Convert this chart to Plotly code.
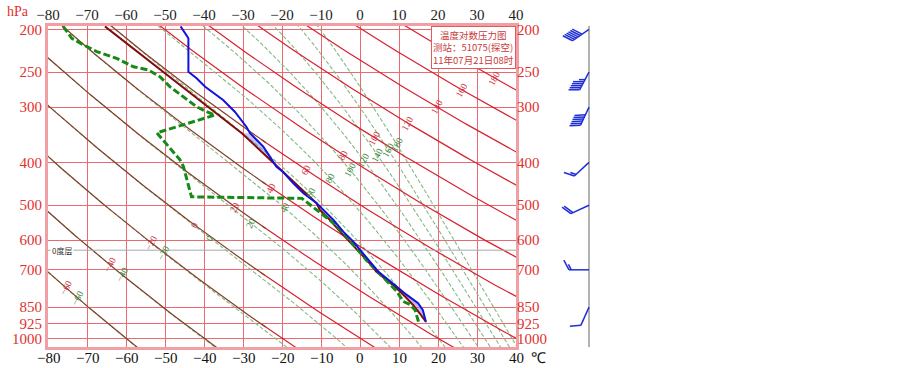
import numpy as np
import plotly.graph_objects as go

# ---------------- data ----------------
# environmental temperature profile (blue)
P_TEMP = [197, 209.6, 249.4, 258.1, 269.7, 289.1, 307.2, 332.6, 343.6, 368.5, 409.5, 420.6,
          446.1, 470, 495, 512.6, 540, 573.8, 604.5, 636.8, 671, 706.8, 731.6, 764.6,
          797.8, 833, 862.6, 917]
TEMP = [-46.0, -44.0, -44.0, -41.9, -39.7, -35.1, -32.1, -29.1, -28.2, -24.8, -21.4, -19.7,
        -17.1, -14.5, -11.1, -9.4, -6.8, -4.3, -1.7, 0.4, 2.6, 4.7, 6.8, 9.4,
        12.0, 14.9, 16.1, 16.9]
# dew point profile (green dashed)
P_DEWP = [197, 209.6, 217.0, 224.6, 232.7, 243.1, 247.2, 256.1, 269.9, 284.3, 299.4, 307.2,
          312.7, 343.0, 394.2, 408.3, 478.6, 482.5, 512.4, 548.6, 589, 626.5, 666.6, 703,
          741.7, 782.5, 825.5, 838.6, 862.6, 917]
DEWP = [-76.1, -73.9, -70.9, -67.5, -62.4, -58.1, -54.3, -51.3, -48.7, -45.3, -41.9, -39.3,
        -37.2, -52.1, -46.2, -45.3, -43.2, -14.9, -11.1, -6.8, -3.4, -0.8, 1.7, 4.3,
        6.8, 9.4, 11.1, 12.8, 14.1, 15.0]
# parcel (state) curve
P_PARCEL = [197, 260.4, 343.6, 420.6, 495, 512.6, 540, 573.8, 604.5, 636.8, 671, 706.8,
            733, 764.6, 800, 840, 880, 917]
T_PARCEL = [-65.4, -47.8, -30.3, -19.7, -11.1, -10.3, -7.7, -5.1, -2.6, -0.3, 2.1, 4.2,
            6.4, 9.0, 11.3, 13.6, 15.4, 16.9]
# shaded energy areas: (p_top, p_bottom, colour)
AREAS = [(343.6, 420.6, "rgba(130,130,235,0.45)"),
         (420.6, 495, "rgba(235,50,60,0.85)"),
         (495, 764.6, "rgba(150,170,240,0.45)"),
         (764.6, 917, "rgba(150,130,225,0.55)")]

ISOBARS = [200, 250, 300, 400, 500, 600, 700, 850, 925, 1000]
T_TICKS = list(range(-80, 41, 10))
THETA_VALUES = list(range(-60, 221, 20))          # dry adiabats, deg C
THETA_LABELS = list(range(-60, 181, 20))
THETA_LABEL_P = [770, 683, 609, 554, 505, 457, 416, 385, 352, 326, 300, 274, 258]
THETASE_VALUES = list(range(-60, 181, 20))        # pseudo-adiabats, deg C
THETASE_LABEL_P = [811, 719, 641, 593, 549, 507, 469, 434, 416, 395, 385, 375, 365]
FREEZING_P = 632

WIND_P = [200, 250, 300, 400, 500, 700, 850]
WIND_DIR = [235, 208, 205, 227, 245, 270, 204]
WIND_SPD = [24, 22, 24, 6, 8, 6, 4]

TITLE_LINES = ["温度对数压力图", "测站：51075(探空)", "11年07月21日08时"]

# ---------------- layout constants ----------------
W, H = 903, 368
ML, MR, MT, MB = 48, 0, 26, 21
MAIN_W = 468
XD = MAIN_W / (W - ML - MR)
PLOT_H = H - MT - MB
LOG_BOT, LOG_TOP = 3.0197, 2.2936
PX_PER_DEC = PLOT_H / (LOG_BOT - LOG_TOP)
BARB_X0 = 589

RED_GRID = "#ea6a72"
RED_LINE = "#d8202e"
BROWN = "#83402a"
GREEN_LINE = "#86b886"
SERIF = "Liberation Serif, Times New Roman, serif"
CJK = "Noto Sans CJK SC"

PGRID = np.geomspace(185, 1100, 140)


def dry_T(theta_c, p):
    return (theta_c + 273.15) * (np.asarray(p) / 1000.0) ** 0.2857 - 273.15


def theta_se(tc, p):
    t = tc + 273.15
    es = 6.112 * np.exp(17.67 * tc / (tc + 243.5))
    ws = 0.622 * es / (p - es)
    return t * (1000.0 / p) ** 0.2857 * np.exp(2.5e6 * ws / (1004.0 * t))


def moist_T(thse_c, p):
    p = np.asarray(p, float)
    lo = np.full_like(p, -130.0)
    hi = np.full_like(p, 60.0)
    target = thse_c + 273.15
    for _ in range(60):
        mid = 0.5 * (lo + hi)
        f = theta_se(mid, p) > target
        hi = np.where(f, mid, hi)
        lo = np.where(f, lo, mid)
    return 0.5 * (lo + hi)


def join(lines):
    X, Y = [], []
    for xs, ys in lines:
        X += list(xs) + [None]
        Y += list(ys) + [None]
    return X, Y


fig = go.Figure()

# pseudo-adiabats (green dashed)
gl = [(moist_T(v, PGRID), PGRID) for v in THETASE_VALUES]
gx, gy = join(gl)
fig.add_trace(go.Scatter(x=gx, y=gy, mode="lines", hoverinfo="skip",
                         line=dict(color=GREEN_LINE, width=1.1, dash="4px,2px")))

# dry adiabats (red, brownish where they coincide with the pseudo-adiabats)
brown, red = [], []
for th in THETA_VALUES:
    T = dry_T(th, PGRID)
    cold = (T < -25) if th <= 60 else np.zeros_like(T, bool)
    warm = ~cold
    for mask, store in ((cold, brown), (warm, red)):
        m = mask.copy()
        m[1:] |= mask[:-1]
        m[:-1] |= mask[1:]
        xs = np.where(m, T, np.nan)
        store.append(([None if np.isnan(v) else v for v in xs], list(PGRID)))
bx, by = join(brown)
rx, ry = join(red)
fig.add_trace(go.Scatter(x=rx, y=ry, mode="lines", hoverinfo="skip", connectgaps=False,
                         line=dict(color=RED_LINE, width=1.2)))
fig.add_trace(go.Scatter(x=bx, y=by, mode="lines", hoverinfo="skip", connectgaps=False,
                         line=dict(color=BROWN, width=1.2)))

# freezing level line
fig.add_trace(go.Scatter(x=[T_TICKS[0], T_TICKS[-1]], y=[FREEZING_P, FREEZING_P], mode="lines",
                         hoverinfo="skip", line=dict(color="#a8a8a8", width=1)))

# shaded areas between parcel and environment
pt, tt = np.array(P_TEMP), np.array(TEMP)
pp, tp = np.array(P_PARCEL), np.array(T_PARCEL)
for p0, p1, col in AREAS:
    a = (pt >= p0) & (pt <= p1)
    b = (pp >= p0) & (pp <= p1)
    xs = list(tt[a]) + list(tp[b][::-1])
    ys = list(pt[a]) + list(pp[b][::-1])
    fig.add_trace(go.Scatter(x=xs, y=ys, mode="lines", fill="toself", fillcolor=col,
                             line=dict(width=0), hoverinfo="skip"))

# parcel curve
fig.add_trace(go.Scatter(x=T_PARCEL, y=P_PARCEL, mode="lines",
                         line=dict(color="#800c0c", width=2)))
# dew point
fig.add_trace(go.Scatter(x=DEWP, y=P_DEWP, mode="lines",
                         line=dict(color="#168a16", width=3, dash="7px,3px")))
# temperature
fig.add_trace(go.Scatter(x=TEMP, y=P_TEMP, mode="lines",
                         line=dict(color="#1212dd", width=2)))

# wind station line and barbs (own axes so the grid does not spill over)
fig.add_trace(go.Scatter(x=[BARB_X0, BARB_X0], y=[10 ** LOG_TOP, 10 ** LOG_BOT], xaxis="x2",
                         yaxis="y2", mode="lines", line=dict(color="#9a9a9a", width=1.5),
                         hoverinfo="skip"))


def px_to_p(p, dy):
    return p * 10 ** (dy / PX_PER_DEC)


bxs, bys = [], []
STAFF, FEATH, GAP = 20.0, 11.0, 2.3
for p, d, s in zip(WIND_P, WIND_DIR, WIND_SPD):
    r = np.deg2rad(d)
    dx, dy = np.sin(r), -np.cos(r)
    tipx, tipy = BARB_X0 + dx * STAFF, dy * STAFF
    bxs += [BARB_X0, tipx, None]
    bys += [p, px_to_p(p, tipy), None]
    ang = np.arctan2(dy, dx) + np.deg2rad(62)
    fx, fy = np.cos(ang), np.sin(ang)
    nfull, half = int(s // 4), (s % 4) >= 2
    k = 0
    for i in range(nfull + (1 if half else 0)):
        L = FEATH if i < nfull else FEATH * 0.55
        sx, sy = tipx - dx * GAP * k, tipy - dy * GAP * k
        bxs += [sx, sx + fx * L, None]
        bys += [px_to_p(p, sy), px_to_p(p, sy + fy * L), None]
        k += 1
fig.add_trace(go.Scatter(x=bxs, y=bys, xaxis="x2", yaxis="y2", mode="lines",
                         line=dict(color="#1f2fd6", width=1.5), hoverinfo="skip"))

# dummy traces for mirrored axes
fig.add_trace(go.Scatter(x=[None], y=[None], xaxis="x3", yaxis="y3", showlegend=False))

annotations = []
for th, p in zip(THETA_LABELS, THETA_LABEL_P):
    annotations.append(dict(x=float(dry_T(th, p)), y=np.log10(p), xref="x", yref="y",
                            text=str(th).replace("-", "−"), showarrow=False, textangle=-62,
                            font=dict(family=SERIF, size=9.5, color="#d0303a")))
for v, p in zip(THETASE_VALUES, THETASE_LABEL_P):
    annotations.append(dict(x=float(moist_T(v, np.array([p]))[0]), y=np.log10(p), xref="x",
                            yref="y", text=str(v).replace("-", "−"), showarrow=False,
                            textangle=-62, font=dict(family=SERIF, size=9.5, color="#3e8a3e")))

tick_text_T = [str(t).replace("-", "−") for t in T_TICKS]
# bottom temperature labels, placed on the x scale just below the frame
for t, s in zip(T_TICKS, tick_text_T):
    annotations.append(dict(x=t, y=-10.5 / PLOT_H, xref="x", yref="paper", text=s,
                            showarrow=False, xanchor="center", yanchor="middle",
                            font=dict(family=SERIF, size=15, color="#111111")))

annotations += [
    dict(x=XD, y=1, xref="paper", yref="paper", xanchor="right", yanchor="top",
         text="<br>".join(TITLE_LINES), showarrow=False, align="center",
         bgcolor="white", bordercolor="#e25a5a", borderwidth=1, borderpad=1,
         font=dict(family=CJK, size=9.5, color="#c83a3a")),
    dict(x=-30 / (W - ML), y=(PLOT_H + 14) / PLOT_H, xref="paper", yref="paper",
         text="hPa", showarrow=False, xanchor="center", yanchor="middle",
         font=dict(family=SERIF, size=14, color="#e03030")),
    dict(x=(538 - ML) / (W - ML), y=-10.5 / PLOT_H, xref="paper",
         yref="paper", text="℃", showarrow=False, xanchor="center", yanchor="middle",
         font=dict(family=SERIF, size=15, color="#111111")),
    dict(x=T_TICKS[0] + 0.5, y=np.log10(FREEZING_P), xref="x", yref="y", text="0度层",
         showarrow=False, xanchor="left", yanchor="middle", bgcolor="white",
         font=dict(family=CJK, size=8, color="#333333")),
]

fig.update_layout(
    width=W, height=H, margin=dict(l=ML, r=MR, t=MT, b=MB, autoexpand=False),
    paper_bgcolor="white", plot_bgcolor="white", showlegend=False,
    xaxis=dict(domain=[0, XD], range=[-80, 40], tickvals=T_TICKS, showticklabels=False,
               showgrid=True, gridcolor=RED_GRID, gridwidth=1, zeroline=False,
               showline=True, linecolor="#f0a0a4", linewidth=3, mirror=True, ticks="",
               automargin=False, anchor="y"),
    xaxis3=dict(overlaying="x", side="top", range=[-80, 40], tickvals=T_TICKS,
                ticktext=tick_text_T, showgrid=False, zeroline=False, ticks="",
                automargin=False, ticklabelstandoff=2,
                tickfont=dict(family=SERIF, size=15, color="#222222"), anchor="y"),
    xaxis2=dict(domain=[XD, 1], range=[W - MR - (W - ML - MR) * (1 - XD), W - MR],
                visible=False, anchor="y2", automargin=False),
    yaxis=dict(type="log", range=[LOG_BOT, LOG_TOP], tickvals=ISOBARS,
               ticktext=[str(v) for v in ISOBARS], showgrid=True, gridcolor=RED_GRID,
               gridwidth=1, zeroline=False, showline=True, linecolor="#f0a0a4",
               linewidth=3, mirror=True, ticks="", automargin=False, ticklabelstandoff=0,
               tickfont=dict(family=SERIF, size=15, color="#e03030"), anchor="x"),
    yaxis2=dict(type="log", range=[LOG_BOT, LOG_TOP], domain=[0, 1], anchor="x2",
                visible=False, automargin=False),
    yaxis3=dict(type="log", overlaying="y", side="right", anchor="x", range=[LOG_BOT, LOG_TOP],
                tickvals=ISOBARS, ticktext=[str(v) for v in ISOBARS], showgrid=False,
                zeroline=False, ticks="", automargin=False, ticklabelstandoff=0,
                tickfont=dict(family=SERIF, size=15, color="#e03030")),
    annotations=annotations,
)

fig.write_html("out.html", config={"displayModeBar": False},
               post_script="document.body.style.margin='0';document.body.style.padding='0';")
